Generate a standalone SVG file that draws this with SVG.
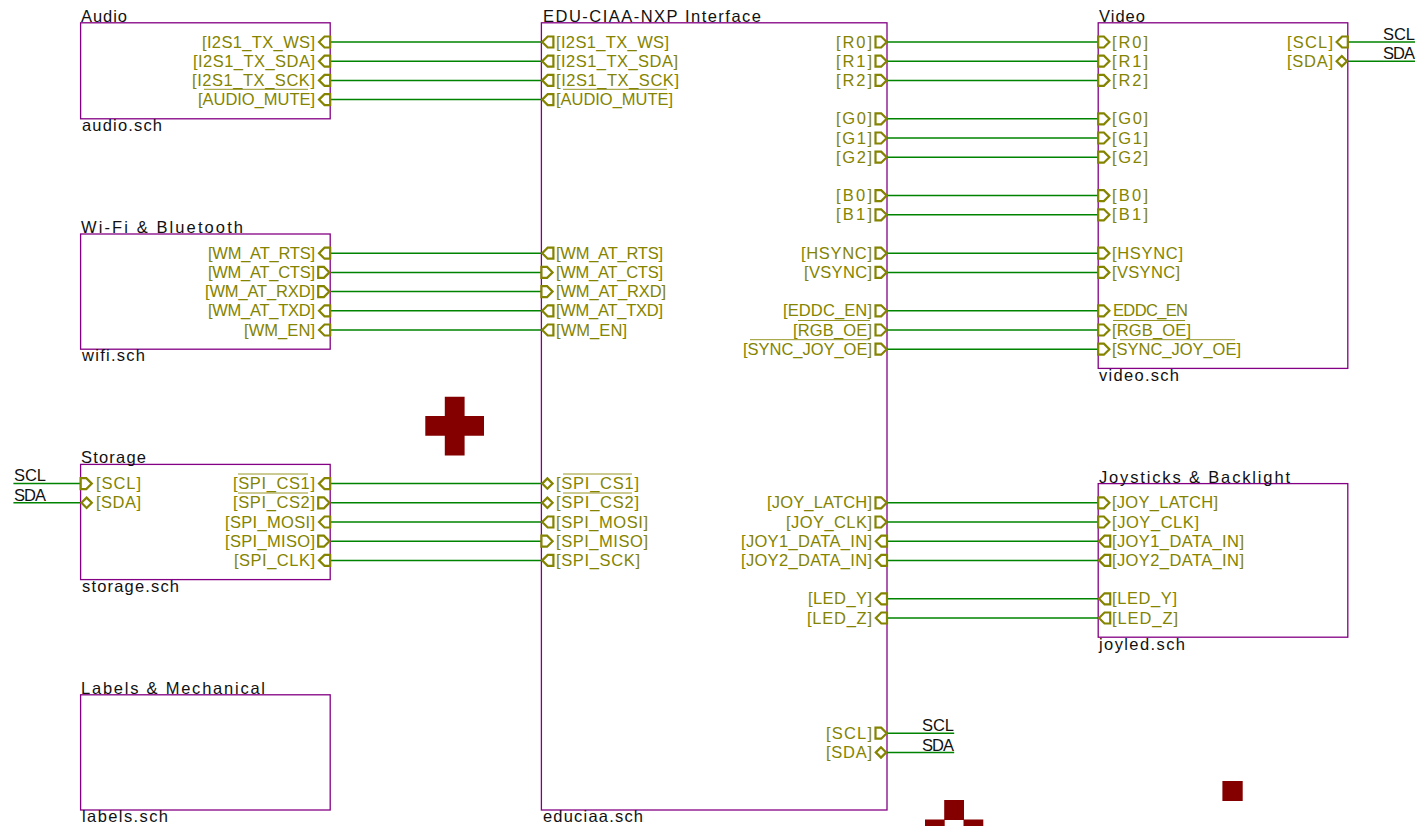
<svg xmlns="http://www.w3.org/2000/svg" width="1418" height="826" viewBox="0 0 1418 826">
<style>
text{font-family:"Liberation Sans","DejaVu Sans",sans-serif;font-size:16.500px}
.s{fill:none;stroke:#840084;stroke-width:1.300}
.w{stroke:#008400;stroke-width:1.500;fill:none}
.p{fill:none;stroke:#848400;stroke-width:2.200}
.t{fill:#848400}
.k{fill:#111}
.o{stroke:#848400;stroke-width:1;opacity:.85}
.m{fill:#840000}
</style>
<defs>
<path id="L" class="p" d="M0.800 0L6.300 -5.500H12V5.500H6.300Z"/>
<path id="R" class="p" d="M0 -5.500H5.700L11.200 0L5.700 5.500H0Z"/>
<path id="D" class="p" d="M0.800 0L6 -5.200L11.200 0L6 5.200Z"/>
</defs>
<g id="connectors">
<path class="w" d="M330.200 42H541.400M330.200 61.200H541.400M330.200 80.400H541.400M330.200 99.600H541.400M330.200 253.200H541.400M330.200 272.400H541.400M330.200 291.600H541.400M330.200 310.800H541.400M330.200 330H541.400M330.200 483.600H541.400M330.200 502.800H541.400M330.200 522H541.400M330.200 541.200H541.400M330.200 560.400H541.400"/>
<path class="w" d="M887 42H1098.200M887 61.200H1098.200M887 80.400H1098.200M887 118.800H1098.200M887 138H1098.200M887 157.200H1098.200M887 195.600H1098.200M887 214.800H1098.200M887 253.200H1098.200M887 272.400H1098.200M887 310.800H1098.200M887 330H1098.200M887 349.200H1098.200M887 502.800H1098.200M887 522H1098.200M887 541.200H1098.200M887 560.400H1098.200M887 598.800H1098.200M887 618H1098.200"/>
<path class="w" d="M13.400 483.600H80.600M13.400 502.800H80.600M1347.800 42H1415M1347.800 61.200H1415M887 733.200H954.200M887 752.400H954.200"/>
</g>
<g id="audio">
<rect class="s" x="80.600" y="22.800" width="249.600" height="96"/>
<text class="k" x="81" y="21.500" textLength="46">Audio</text>
<text class="k" x="82" y="131" textLength="80">audio.sch</text>
<g class="t" text-anchor="end">
<text x="315" y="47.500" textLength="113">[I2S1_TX_WS]</text>
<text x="315" y="66.700" textLength="122">[I2S1_TX_SDA]</text>
<text x="315" y="85.900" textLength="123">[I2S1_TX_SCK]</text>
<text x="315" y="105.100" textLength="117">[AUDIO_MUTE]</text>
</g>
<path class="o" d="M204 89.300H308"/>
<use href="#L" x="318.200" y="42"/><use href="#L" x="318.200" y="61.200"/><use href="#L" x="318.200" y="80.400"/><use href="#L" x="318.200" y="99.600"/>
</g>
<g id="wifi">
<rect class="s" x="80.600" y="234" width="249.600" height="115.200"/>
<text class="k" x="81" y="232.500" textLength="162">Wi-Fi &amp; Bluetooth</text>
<text class="k" x="82" y="361" textLength="63">wifi.sch</text>
<g class="t" text-anchor="end">
<text x="315" y="258.700" textLength="107">[WM_AT_RTS]</text>
<text x="315" y="277.900" textLength="107">[WM_AT_CTS]</text>
<text x="315" y="297.100" textLength="110">[WM_AT_RXD]</text>
<text x="315" y="316.300" textLength="107">[WM_AT_TXD]</text>
<text x="315" y="335.500" textLength="71">[WM_EN]</text>
</g>
<use href="#L" x="318.200" y="253.200"/><use href="#R" x="318.200" y="272.400"/><use href="#R" x="318.200" y="291.600"/><use href="#L" x="318.200" y="310.800"/><use href="#L" x="318.200" y="330"/>
</g>
<g id="storage">
<rect class="s" x="80.600" y="464.400" width="249.600" height="115.200"/>
<text class="k" x="81" y="463" textLength="65">Storage</text>
<text class="k" x="82" y="592" textLength="97">storage.sch</text>
<text class="t" x="96" y="489.100" textLength="45">[SCL]</text>
<text class="t" x="96" y="508.300" textLength="45">[SDA]</text>
<g class="t" text-anchor="end">
<text x="315" y="489.100" textLength="82">[SPI_CS1]</text>
<text x="315" y="508.300" textLength="82">[SPI_CS2]</text>
<text x="315" y="527.500" textLength="90">[SPI_MOSI]</text>
<text x="315" y="546.700" textLength="90">[SPI_MISO]</text>
<text x="315" y="565.900" textLength="81">[SPI_CLK]</text>
</g>
<path class="o" d="M238 474H308M238 493H308"/>
<use href="#R" x="80.600" y="483.600"/><use href="#D" x="80.600" y="502.800"/>
<use href="#L" x="318.200" y="483.600"/><use href="#R" x="318.200" y="502.800"/><use href="#L" x="318.200" y="522"/><use href="#R" x="318.200" y="541.200"/><use href="#L" x="318.200" y="560.400"/>
</g>
<g id="labels">
<rect class="s" x="80.600" y="694.800" width="249.600" height="115.200"/>
<text class="k" x="81" y="693.500" textLength="184">Labels &amp; Mechanical</text>
<text class="k" x="82" y="822" textLength="86">labels.sch</text>
</g>
<g id="educiaa">
<rect class="s" x="541.400" y="22.800" width="345.600" height="787.200"/>
<text class="k" x="543" y="21.500" textLength="218">EDU-CIAA-NXP Interface</text>
<text class="k" x="543" y="822" textLength="100">educiaa.sch</text>
<g class="t">
<text x="556" y="47.500" textLength="113">[I2S1_TX_WS]</text>
<text x="556" y="66.700" textLength="122">[I2S1_TX_SDA]</text>
<text x="556" y="85.900" textLength="123">[I2S1_TX_SCK]</text>
<text x="556" y="105.100" textLength="117">[AUDIO_MUTE]</text>
<text x="556" y="258.700" textLength="107">[WM_AT_RTS]</text>
<text x="556" y="277.900" textLength="107">[WM_AT_CTS]</text>
<text x="556" y="297.100" textLength="110">[WM_AT_RXD]</text>
<text x="556" y="316.300" textLength="107">[WM_AT_TXD]</text>
<text x="556" y="335.500" textLength="71">[WM_EN]</text>
<text x="556" y="489.100" textLength="83">[SPI_CS1]</text>
<text x="556" y="508.300" textLength="83">[SPI_CS2]</text>
<text x="556" y="527.500" textLength="92">[SPI_MOSI]</text>
<text x="556" y="546.700" textLength="92">[SPI_MISO]</text>
<text x="556" y="565.900" textLength="84">[SPI_SCK]</text>
</g>
<g class="t" text-anchor="end">
<text x="872" y="47.500" textLength="36">[R0]</text>
<text x="872" y="66.700" textLength="36">[R1]</text>
<text x="872" y="85.900" textLength="36">[R2]</text>
<text x="872" y="124.300" textLength="36">[G0]</text>
<text x="872" y="143.500" textLength="36">[G1]</text>
<text x="872" y="162.700" textLength="36">[G2]</text>
<text x="872" y="201.100" textLength="36">[B0]</text>
<text x="872" y="220.300" textLength="36">[B1]</text>
<text x="872" y="258.700" textLength="71">[HSYNC]</text>
<text x="872" y="277.900" textLength="68">[VSYNC]</text>
<text x="872" y="316.300" textLength="89">[EDDC_EN]</text>
<text x="872" y="335.500" textLength="79">[RGB_OE]</text>
<text x="872" y="354.700" textLength="129">[SYNC_JOY_OE]</text>
<text x="872" y="508.300" textLength="105">[JOY_LATCH]</text>
<text x="872" y="527.500" textLength="86">[JOY_CLK]</text>
<text x="872" y="546.700" textLength="131">[JOY1_DATA_IN]</text>
<text x="872" y="565.900" textLength="131">[JOY2_DATA_IN]</text>
<text x="872" y="604.300" textLength="64">[LED_Y]</text>
<text x="872" y="623.500" textLength="65">[LED_Z]</text>
<text x="872" y="738.700" textLength="46">[SCL]</text>
<text x="872" y="757.900" textLength="46">[SDA]</text>
</g>
<path class="o" d="M563 89.300H667M798 320.500H870M750 339.700H870M563 474H632M563 493H632"/>
<use href="#L" x="541.400" y="42"/><use href="#L" x="541.400" y="61.200"/><use href="#L" x="541.400" y="80.400"/><use href="#L" x="541.400" y="99.600"/>
<use href="#L" x="541.400" y="253.200"/><use href="#R" x="541.400" y="272.400"/><use href="#R" x="541.400" y="291.600"/><use href="#L" x="541.400" y="310.800"/><use href="#L" x="541.400" y="330"/>
<use href="#D" x="541.400" y="483.600"/><use href="#D" x="541.400" y="502.800"/><use href="#L" x="541.400" y="522"/><use href="#R" x="541.400" y="541.200"/><use href="#L" x="541.400" y="560.400"/>
<use href="#R" x="875.500" y="42"/><use href="#R" x="875.500" y="61.200"/><use href="#R" x="875.500" y="80.400"/><use href="#R" x="875.500" y="118.800"/><use href="#R" x="875.500" y="138"/><use href="#R" x="875.500" y="157.200"/><use href="#R" x="875.500" y="195.600"/><use href="#R" x="875.500" y="214.800"/><use href="#R" x="875.500" y="253.200"/><use href="#R" x="875.500" y="272.400"/><use href="#R" x="875.500" y="310.800"/><use href="#R" x="875.500" y="330"/><use href="#R" x="875.500" y="349.200"/>
<use href="#R" x="875.500" y="502.800"/><use href="#R" x="875.500" y="522"/><use href="#L" x="875" y="541.200"/><use href="#L" x="875" y="560.400"/><use href="#L" x="875" y="598.800"/><use href="#L" x="875" y="618"/><use href="#R" x="875.500" y="733.200"/><use href="#D" x="875" y="752.400"/>
</g>
<g id="video">
<rect class="s" x="1098.200" y="22.800" width="249.600" height="345.600"/>
<text class="k" x="1099" y="21.500" textLength="46">Video</text>
<text class="k" x="1099" y="381" textLength="80">video.sch</text>
<g class="t">
<text x="1112" y="47.500" textLength="36">[R0]</text>
<text x="1112" y="66.700" textLength="36">[R1]</text>
<text x="1112" y="85.900" textLength="36">[R2]</text>
<text x="1112" y="124.300" textLength="36">[G0]</text>
<text x="1112" y="143.500" textLength="36">[G1]</text>
<text x="1112" y="162.700" textLength="36">[G2]</text>
<text x="1112" y="201.100" textLength="36">[B0]</text>
<text x="1112" y="220.300" textLength="36">[B1]</text>
<text x="1112" y="258.700" textLength="71">[HSYNC]</text>
<text x="1112" y="277.900" textLength="68">[VSYNC]</text>
<text x="1113" y="316.300" textLength="75">EDDC_EN</text>
<text x="1112" y="335.500" textLength="79">[RGB_OE]</text>
<text x="1112" y="354.700" textLength="129">[SYNC_JOY_OE]</text>
</g>
<g class="t" text-anchor="end">
<text x="1333" y="47.500" textLength="46">[SCL]</text>
<text x="1333" y="66.700" textLength="46">[SDA]</text>
</g>
<path class="o" d="M1113 320.500H1185M1120 339.700H1235"/>
<use href="#R" x="1098.200" y="42"/><use href="#R" x="1098.200" y="61.200"/><use href="#R" x="1098.200" y="80.400"/><use href="#R" x="1098.200" y="118.800"/><use href="#R" x="1098.200" y="138"/><use href="#R" x="1098.200" y="157.200"/><use href="#R" x="1098.200" y="195.600"/><use href="#R" x="1098.200" y="214.800"/><use href="#R" x="1098.200" y="253.200"/><use href="#R" x="1098.200" y="272.400"/><use href="#R" x="1098.200" y="310.800"/><use href="#R" x="1098.200" y="330"/><use href="#R" x="1098.200" y="349.200"/>
<use href="#L" x="1335.800" y="42"/><use href="#D" x="1335.800" y="61.200"/>
</g>
<g id="joyled">
<rect class="s" x="1098.200" y="483.600" width="249.600" height="153.600"/>
<text class="k" x="1099" y="482.500" textLength="191">Joysticks &amp; Backlight</text>
<text class="k" x="1099" y="650" textLength="86">joyled.sch</text>
<g class="t">
<text x="1112" y="508.300" textLength="106">[JOY_LATCH]</text>
<text x="1112" y="527.500" textLength="87">[JOY_CLK]</text>
<text x="1112" y="546.700" textLength="132">[JOY1_DATA_IN]</text>
<text x="1112" y="565.900" textLength="132">[JOY2_DATA_IN]</text>
<text x="1112" y="604.300" textLength="65">[LED_Y]</text>
<text x="1112" y="623.500" textLength="66">[LED_Z]</text>
</g>
<use href="#R" x="1098.200" y="502.800"/><use href="#R" x="1098.200" y="522"/><use href="#L" x="1098.200" y="541.200"/><use href="#L" x="1098.200" y="560.400"/><use href="#L" x="1098.200" y="598.800"/><use href="#L" x="1098.200" y="618"/>
</g>
<g id="net-labels">
<g class="k">
<text x="14" y="481" textLength="32">SCL</text>
<text x="14" y="501" textLength="32">SDA</text>
<text x="1383" y="40" textLength="32">SCL</text>
<text x="1383" y="59" textLength="32">SDA</text>
<text x="922" y="731" textLength="32">SCL</text>
<text x="922" y="751" textLength="32">SDA</text>
</g>
</g>
<g id="marks">
<path class="m" d="M444.800 396.800H464.600V416H484V435.800H464.600V455.600H444.800V435.800H425.300V416H444.800Z"/>
<path class="m" d="M944.200 800H964V819.400H983.300V826H963.500V820H944.700V826H925V819.400H944.200Z"/>
<rect class="m" x="1222.400" y="781" width="20.300" height="20"/>
</g>
</svg>
